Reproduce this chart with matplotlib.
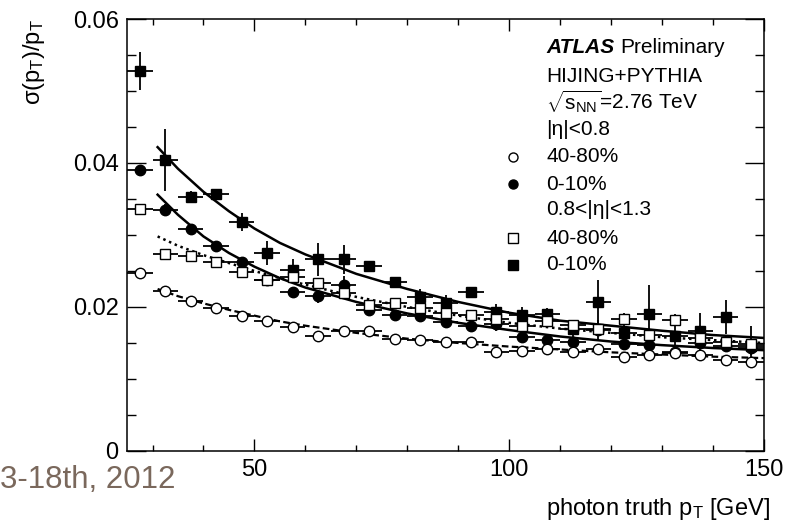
"""Photon pT resolution vs truth pT, ATLAS HIJING+PYTHIA style plot."""

import numpy as np
import matplotlib
matplotlib.use("Agg")
import matplotlib.pyplot as plt
from matplotlib.ticker import MultipleLocator, FuncFormatter

plt.rcParams["font.family"] = ["Liberation Sans", "DejaVu Sans"]
plt.rcParams["mathtext.fontset"] = "custom"
plt.rcParams["mathtext.rm"] = "Liberation Sans"
plt.rcParams["mathtext.it"] = "Liberation Sans:italic"

# bin centres (GeV) and half width
pt_bins = [27.5, 32.5, 37.5, 42.5, 47.5, 52.5, 57.5, 62.5, 67.5, 72.5,
           77.5, 82.5, 87.5, 92.5, 97.5, 102.5, 107.5, 112.5, 117.5, 122.5,
           127.5, 132.5, 137.5, 142.5, 147.5]
bin_half = 2.5

# |eta|<0.8, 40-80% (open circles)
c_periph = [0.0247, 0.0222, 0.0209, 0.0198, 0.0187, 0.0180, 0.0172, 0.0160, 0.0166, 0.0166,
            0.0156, 0.0154, 0.0152, 0.0151, 0.0138, 0.0139, 0.0141, 0.0138, 0.0141, 0.0131,
            0.0133, 0.0136, 0.0134, 0.0127, 0.0123]
c_periph_err = [0.0003, 0.0003, 0.0003, 0.0003, 0.0003, 0.0003, 0.0003, 0.0004, 0.0003, 0.0004,
                0.0003, 0.0003, 0.0003, 0.0003, 0.0003, 0.0003, 0.0003, 0.0003, 0.0004, 0.0004,
                0.0003, 0.0004, 0.0004, 0.0004, 0.0004]
# |eta|<0.8, 0-10% (filled circles)
c_central = [0.0390, 0.0335, 0.0309, 0.0285, 0.0263, 0.0237, 0.0221, 0.0215, 0.0231, 0.0196,
             0.0189, 0.0187, 0.0179, 0.0173, 0.0176, 0.0159, 0.0154, 0.0152, 0.0168, 0.0149,
             0.0147, 0.0138, 0.0150, 0.0146, 0.0143]
c_central_err = [0.0007, 0.0008, 0.0006, 0.0006, 0.0006, 0.0006, 0.0006, 0.0009, 0.0012, 0.0006,
                 0.0006, 0.0006, 0.0006, 0.0006, 0.0010, 0.0006, 0.0006, 0.0006, 0.0014, 0.0007,
                 0.0007, 0.0008, 0.0010, 0.0008, 0.0009]
# 0.8<|eta|<1.3, 40-80% (open squares)
f_periph = [0.0336, 0.0274, 0.0271, 0.0263, 0.0248, 0.0238, 0.0241, 0.0234, 0.0220, 0.0203,
            0.0206, 0.0198, 0.0191, 0.0189, 0.0184, 0.0173, 0.0180, 0.0175, 0.0170, 0.0184,
            0.0161, 0.0182, 0.0157, 0.0152, 0.0148]
f_periph_err = [0.0005, 0.0004, 0.0004, 0.0004, 0.0004, 0.0004, 0.0005, 0.0005, 0.0005, 0.0005,
                0.0005, 0.0005, 0.0005, 0.0005, 0.0006, 0.0006, 0.0006, 0.0006, 0.0006, 0.0008,
                0.0007, 0.0008, 0.0008, 0.0008, 0.0008]
# 0.8<|eta|<1.3, 0-10% (filled squares)
f_central = [0.0528, 0.0404, 0.0353, 0.0357, 0.0318, 0.0275, 0.0252, 0.0266, 0.0266, 0.0257,
             0.0235, 0.0214, 0.0205, 0.0221, 0.0193, 0.0189, 0.0190, 0.0170, 0.0207, 0.0164,
             0.0190, 0.0160, 0.0167, 0.0186, 0.0146]
f_central_err = [0.0026, 0.0043, 0.0008, 0.0006, 0.0012, 0.0017, 0.0015, 0.0023, 0.0020, 0.0007,
                 0.0007, 0.0011, 0.0012, 0.0006, 0.0011, 0.0011, 0.0008, 0.0011, 0.0031, 0.0014,
                 0.0040, 0.0016, 0.0024, 0.0024, 0.0027]

# fit curves
fit_x = [31, 35, 40, 45, 50, 55, 60, 70, 80, 90, 100, 110, 120, 130, 140, 150]
fit_c_periph = [0.0225, 0.0215, 0.0205, 0.0196, 0.0188, 0.0180, 0.0174, 0.0164, 0.0156, 0.0150,
                0.0145, 0.0141, 0.0137, 0.0134, 0.0131, 0.0129]
fit_c_central = [0.0356, 0.0328, 0.0298, 0.0275, 0.0256, 0.0240, 0.0227, 0.0207, 0.0191, 0.0178,
                 0.0168, 0.0159, 0.0152, 0.0147, 0.0143, 0.0140]
fit_f_periph = [0.0298, 0.0285, 0.0272, 0.0261, 0.0250, 0.0240, 0.0231, 0.0214, 0.0200, 0.0188,
                0.0178, 0.0170, 0.0164, 0.0158, 0.0154, 0.0150]
fit_f_central = [0.0422, 0.0392, 0.0360, 0.0333, 0.0309, 0.0289, 0.0273, 0.0246, 0.0225, 0.0207,
                 0.0192, 0.0181, 0.0174, 0.0167, 0.0161, 0.0157]

legend_rows = [("o", "white", "40-80%"), ("o", "black", "0-10%"),
               (None, None, "0.8<|η|<1.3"),
               ("s", "white", "40-80%"), ("s", "black", "0-10%")]


def main():
    fig = plt.figure(figsize=(7.93, 5.25), dpi=100)
    ax = fig.add_axes([0.1602, 0.1410, 0.8032, 0.8228])

    # fits
    ax.plot(fit_x, fit_c_periph, color="black", lw=1.6, ls=(0, (3, 1.5)), zorder=2)
    ax.plot(fit_x, fit_c_central, color="black", lw=1.8, ls="-", zorder=2)
    ax.plot(fit_x, fit_f_periph, color="black", lw=1.8, ls=(0, (1, 1.5)), zorder=2)
    ax.plot(fit_x, fit_f_central, color="black", lw=1.8, ls="-", zorder=2)

    series = [
        (f_central, f_central_err, "s", "black"),
        (c_central, c_central_err, "o", "black"),
        (f_periph, f_periph_err, "s", "white"),
        (c_periph, c_periph_err, "o", "white"),
    ]
    for vals, errs, mk, face in series:
        ax.errorbar(pt_bins, vals, yerr=errs, xerr=bin_half, fmt=mk,
                    mfc=face, mec="black", mew=1.0, ms=7.5,
                    ecolor="black", elinewidth=1.3, capsize=0, zorder=3)

    ax.set_xlim(25, 150)
    ax.set_ylim(0, 0.06)
    ax.xaxis.set_major_locator(MultipleLocator(50))
    ax.xaxis.set_minor_locator(MultipleLocator(10))
    ax.yaxis.set_major_locator(MultipleLocator(0.02))
    ax.yaxis.set_minor_locator(MultipleLocator(0.005))
    ax.yaxis.set_major_formatter(FuncFormatter(lambda v, p: "0" if abs(v) < 1e-9 else f"{v:.2f}"))

    ax.tick_params(axis="both", which="both", direction="in", top=True, right=True,
                   labelsize=17, width=1.0, colors="black")
    ax.tick_params(axis="y", which="major", length=13.5, pad=6)
    ax.tick_params(axis="y", which="minor", length=6.5)
    ax.tick_params(axis="x", which="major", length=8.6, pad=6)
    ax.tick_params(axis="x", which="minor", length=4.3)
    for sp in ax.spines.values():
        sp.set_linewidth(1.1)

    ax.set_ylabel(r"σ(p$_\mathregular{T}$)/p$_\mathregular{T}$", fontsize=17, loc="top")
    ax.yaxis.set_label_coords(-0.125, 1.0)
    ax.set_xlabel(r"photon truth p$_\mathregular{T}$ [GeV]", fontsize=17, loc="right")
    ax.xaxis.set_label_coords(1.009, -0.105)

    # legend block
    tx, mx = 0.658, 0.606
    ax.text(tx, 0.933, "ATLAS", transform=ax.transAxes, fontsize=15,
            fontweight="bold", fontstyle="italic", va="center")
    ax.text(0.775, 0.933, "Preliminary", transform=ax.transAxes, fontsize=15, va="center")
    ax.text(tx, 0.866, "HIJING+PYTHIA", transform=ax.transAxes, fontsize=15, va="center")
    ax.text(tx, 0.808, r"$\sqrt{\mathregular{s_{NN}}}$=2.76 TeV", transform=ax.transAxes,
            fontsize=15, va="center")
    ax.text(tx, 0.745, "|η|<0.8", transform=ax.transAxes, fontsize=15, va="center")
    row_y = [0.681, 0.618, 0.558, 0.493, 0.431]
    for (mk, face, lbl), yy in zip(legend_rows, row_y):
        if mk is not None:
            ax.plot([mx], [yy], marker=mk, mfc=face, mec="black", mew=1.0, ms=6.5,
                    ls="none", transform=ax.transAxes, clip_on=False)
        ax.text(tx, yy, lbl, transform=ax.transAxes, fontsize=15, va="center")

    # slide footer showing through
    fig.text(0.0, 1 - 480 / 525, "3-18th, 2012", color="#7a685c", fontsize=22.5,
             ha="left", va="center")

    fig.savefig("out.png", dpi=100)


if __name__ == "__main__":
    main()
